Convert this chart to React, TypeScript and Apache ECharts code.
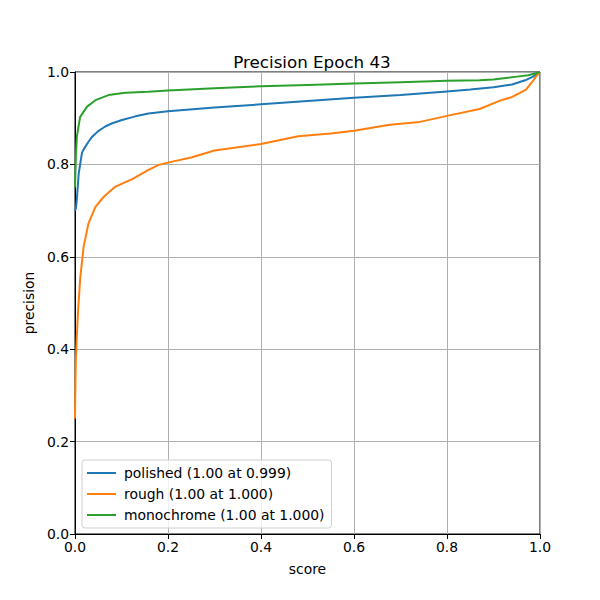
import React, { useEffect, useRef } from "react";
import * as echarts from "echarts";

const seriesNames = ["polished (1.00 at 0.999)", "rough (1.00 at 1.000)", "monochrome (1.00 at 1.000)"];
const colors = ["#1f77b4", "#ff7f0e", "#2ca02c"];

const polishedX = [0, 0.002, 0.004, 0.008, 0.015, 0.019, 0.029, 0.037, 0.05, 0.065, 0.08, 0.101, 0.13, 0.158, 0.2, 0.3, 0.4, 0.5, 0.6, 0.7, 0.8, 0.85, 0.9, 0.94, 0.968, 0.985, 0.995, 1.0];
const polishedY = [0.7, 0.705, 0.725, 0.78, 0.825, 0.833, 0.849, 0.86, 0.872, 0.882, 0.889, 0.896, 0.904, 0.91, 0.915, 0.923, 0.93, 0.937, 0.944, 0.95, 0.958, 0.962, 0.967, 0.973, 0.982, 0.99, 0.997, 1.0];

const roughX = [0, 0.001, 0.002, 0.004, 0.007, 0.0115, 0.0186, 0.029, 0.044, 0.062, 0.087, 0.123, 0.158, 0.18, 0.209, 0.25, 0.3, 0.4, 0.48, 0.55, 0.6, 0.677, 0.742, 0.8, 0.87, 0.914, 0.94, 0.957, 0.97, 0.978, 0.986, 0.992, 1.0];
const roughY = [0.25, 0.33, 0.38, 0.43, 0.49, 0.557, 0.622, 0.6725, 0.708, 0.73, 0.752, 0.768, 0.788, 0.799, 0.806, 0.815, 0.83, 0.844, 0.861, 0.867, 0.873, 0.886, 0.892, 0.905, 0.92, 0.938, 0.946, 0.955, 0.962, 0.972, 0.982, 0.991, 1.0];

const monoX = [0, 0.002, 0.004, 0.011, 0.026, 0.044, 0.072, 0.108, 0.158, 0.2, 0.3, 0.4, 0.5, 0.6, 0.7, 0.8, 0.87, 0.9, 0.95, 0.975, 1.0];
const monoY = [0.75, 0.82, 0.86, 0.903, 0.925, 0.939, 0.95, 0.955, 0.957, 0.96, 0.965, 0.969, 0.972, 0.975, 0.978, 0.981, 0.982, 0.984, 0.99, 0.993, 1.0];

const xTicks = [0, 0.2, 0.4, 0.6, 0.8, 1.0];
const yTicks = [0, 0.2, 0.4, 0.6, 0.8, 1.0];

const zip = (xs: number[], ys: number[]) => xs.map((x, i) => [x, ys[i]]);

export default function App() {
  const ref = useRef<HTMLDivElement>(null);
  useEffect(() => {
    if (!ref.current) return;
    const chart = echarts.init(ref.current, null, { renderer: "svg" });
    const font = "DejaVu Sans";
    const datas = [zip(polishedX, polishedY), zip(roughX, roughY), zip(monoX, monoY)];
    chart.setOption({
      animation: false,
      backgroundColor: "#fff",
      title: {
        text: "Precision Epoch 43",
        left: 307,
        textAlign: "center",
        top: 48,
        textStyle: { fontFamily: font, fontSize: 16.7, fontWeight: "normal", color: "#000" },
      },
      grid: {
        left: 75, top: 72, width: 465, height: 462,
        show: true, borderColor: "#000", borderWidth: 1, backgroundColor: "transparent",
      },
      legend: {
        orient: "vertical",
        left: 82,
        top: 460,
        icon: "rect",
        itemWidth: 29,
        itemHeight: 2,
        itemGap: 7,
        padding: [6, 7, 6, 5],
        backgroundColor: "rgba(255,255,255,0.8)",
        borderColor: "#d0d0d0",
        borderWidth: 1,
        borderRadius: 3,
        textStyle: { fontFamily: font, fontSize: 13.9, color: "#000", lineHeight: 14, padding: [0, 0, 0, 3] },
        data: seriesNames,
      },
      xAxis: {
        type: "value",
        min: 0, max: 1, interval: 0.2,
        name: "score",
        nameLocation: "middle",
        nameGap: 28,
        nameTextStyle: { fontFamily: font, fontSize: 13.9, color: "#000" },
        axisLine: { show: true, onZero: false, lineStyle: { color: "#000", width: 1 } },
        axisTick: { show: true, inside: false, length: 5, lineStyle: { color: "#000" } },
        axisLabel: { fontFamily: font, fontSize: 13.9, color: "#000", margin: 6, formatter: (v: number) => v.toFixed(1) },
        splitLine: { show: true, lineStyle: { color: "#b0b0b0", width: 1 } },
      },
      yAxis: {
        type: "value",
        min: 0, max: 1, interval: 0.2,
        name: "precision",
        nameLocation: "middle",
        nameGap: 38,
        nameTextStyle: { fontFamily: font, fontSize: 13.9, color: "#000" },
        axisLine: { show: true, onZero: false, lineStyle: { color: "#000", width: 1 } },
        axisTick: { show: true, inside: false, length: 5, lineStyle: { color: "#000" } },
        axisLabel: { fontFamily: font, fontSize: 13.9, color: "#000", margin: 6, formatter: (v: number) => v.toFixed(1) },
        splitLine: { show: true, lineStyle: { color: "#b0b0b0", width: 1 } },
      },
      series: seriesNames.map((name, i) => ({
        name,
        type: "line",
        data: datas[i],
        showSymbol: false,
        symbol: "none",
        smooth: false,
        clip: true,
        color: colors[i],
        lineStyle: { color: colors[i], width: 2 },
        z: 2 + i,
      })),
    });
    return () => chart.dispose();
  }, []);
  return <div ref={ref} style={{ width: 600, height: 600, position: "absolute", left: 0, top: 0 }} />;
}
